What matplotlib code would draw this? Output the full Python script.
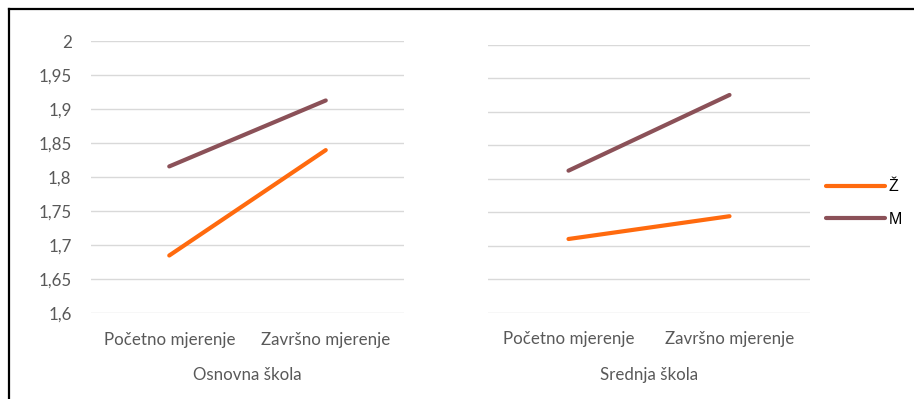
import matplotlib
matplotlib.use("Agg")
import matplotlib.pyplot as plt
from matplotlib.lines import Line2D

plt.rcParams['font.family'] = ['Lato', 'DejaVu Sans']

categories = ["Početno mjerenje", "Završno mjerenje"]
groups = ["Osnovna škola", "Srednja škola"]
series_names = ["Ž", "M"]
zenske = {"Osnovna škola": [1.685, 1.840], "Srednja škola": [1.710, 1.744]}
muski = {"Osnovna škola": [1.816, 1.913], "Srednja škola": [1.812, 1.925]}
y_ticks = [1.6, 1.65, 1.7, 1.75, 1.8, 1.85, 1.9, 1.95, 2.0]
y_labels = ["1,6", "1,65", "1,7", "1,75", "1,8", "1,85", "1,9", "1,95", "2"]

W, H = 914, 399
fig = plt.figure(figsize=(W / 100, H / 100), dpi=100)

orange = "#FF6A0E"
brown = "#8B5158"
text_col = "#595959"
grid_col = "#D9D9D9"
fs = 12.2

# panel boxes in pixels: (left, top, right, bottom)
boxes = [(91, 41.3, 404, 313.3), (488, 44.7, 810, 312.7)]

for i, (g, (l, t, r, b)) in enumerate(zip(groups, boxes)):
    ax = fig.add_axes([l / W, (H - b) / H, (r - l) / W, (b - t) / H])
    x = [0, 1]
    ax.plot(x, zenske[g], color=orange, lw=3.0, solid_capstyle='round')
    ax.plot(x, muski[g], color=brown, lw=3.0, solid_capstyle='round')
    ax.set_xlim(-0.5, 1.5)
    ax.set_ylim(1.6, 2.0)
    ax.set_yticks(y_ticks)
    ax.yaxis.grid(True, color=grid_col, lw=1.0)
    ax.set_axisbelow(True)
    for s in ax.spines.values():
        s.set_visible(False)
    ax.set_xticks(x)
    ax.set_xticklabels(categories, fontsize=fs, color=text_col)
    ax.tick_params(axis='x', length=0, pad=13.5)
    if i == 0:
        ax.set_yticklabels(y_labels, fontsize=fs, color=text_col)
        ax.tick_params(axis='y', length=0, pad=14)
    else:
        ax.set_yticklabels([])
        ax.tick_params(axis='y', length=0)
    ax.set_xlabel(g, fontsize=fs, color=text_col, labelpad=14)

# legend
handles = [Line2D([0], [0], color=orange, lw=3.0, solid_capstyle='round'),
           Line2D([0], [0], color=brown, lw=3.0, solid_capstyle='round')]
leg = fig.legend(handles, series_names, loc='center left',
                 bbox_to_anchor=(812 / W, (H - 203) / H), frameon=False,
                 prop={'family': 'Liberation Sans', 'size': 11.5},
                 handlelength=3.7, handletextpad=0.2, labelspacing=1.07)

# frame lines along the top and left edges
fig.add_artist(Line2D([9 / W, 1.0], [(H - 9) / H, (H - 9) / H],
                      color="black", lw=1.6, transform=fig.transFigure))
fig.add_artist(Line2D([9 / W, 9 / W], [0, (H - 9) / H],
                      color="black", lw=1.6, transform=fig.transFigure))

fig.savefig("out.png", dpi=100)
